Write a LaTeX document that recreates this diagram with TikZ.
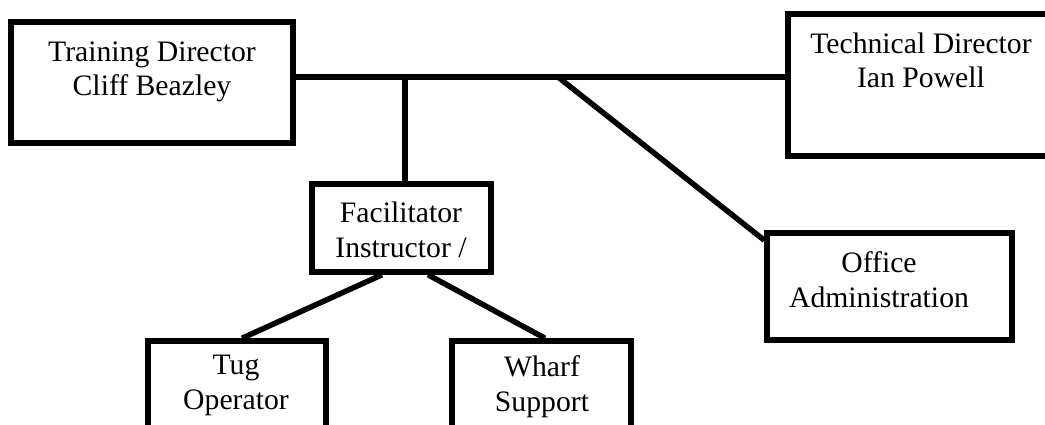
\documentclass[tikz,border=0pt]{standalone}
\usepackage{fontspec}
\setmainfont{Liberation Serif}
\begin{document}
\begin{tikzpicture}[x=1pt,y=-1pt,
  box/.style={draw, line width=5.5pt, inner sep=0pt, rectangle},
  lbl/.style={align=center, anchor=base, inner sep=0pt, font=\fontsize{29.7}{34.5}\selectfont},
  conn/.style={line width=5.5pt}]
\useasboundingbox (0,0) rectangle (1045,425);
\clip (0,0) rectangle (1045,425);
% boxes
\node[box, minimum width=282pt, minimum height=121pt] (tr) at (152,82.5) {};
\node[box, minimum width=268pt, minimum height=142pt] (tech) at (922,85) {};
\node[box, minimum width=245pt, minimum height=107pt] (office) at (889.5,286.5) {};
\node[box, minimum width=179pt, minimum height=88pt] (facil) at (401.5,228) {};
\node[box, minimum width=178pt, minimum height=119pt] (tug) at (237,400.5) {};
\node[box, minimum width=179pt, minimum height=119pt] (wharf) at (541.5,400.5) {};
% labels (anchor = baseline of the last line)
\node[lbl] (trT) at (152,96) {Training Director\\Cliff Beazley};
\node[lbl] (techT) at (921,88) {Technical Director\\Ian Powell};
\node[lbl] (officeT) at (879,307) {Office\\Administration};
\node[lbl] (facilT) at (401,257) {Facilitator\\Instructor /};
\node[lbl] (tugT) at (236,409) {Tug\\Operator};
\node[lbl] (wharfT) at (542,411) {Wharf\\Support};
% connectors
\coordinate (j1) at (405,77);
\coordinate (j2) at (558,77);
\draw[conn] (tr.east |- j1) -- (tech.west |- j1);
\draw[conn] (j1) -- (j1 |- facil.north);
\draw[conn] (j2) -- ([yshift=-10pt]office.north west);
\draw[conn] ([xshift=-19.5pt]facil.south) -- ([xshift=5pt]tug.north);
\draw[conn] ([xshift=26.5pt]facil.south) -- ([xshift=3.5pt]wharf.north);
\end{tikzpicture}
\end{document}
